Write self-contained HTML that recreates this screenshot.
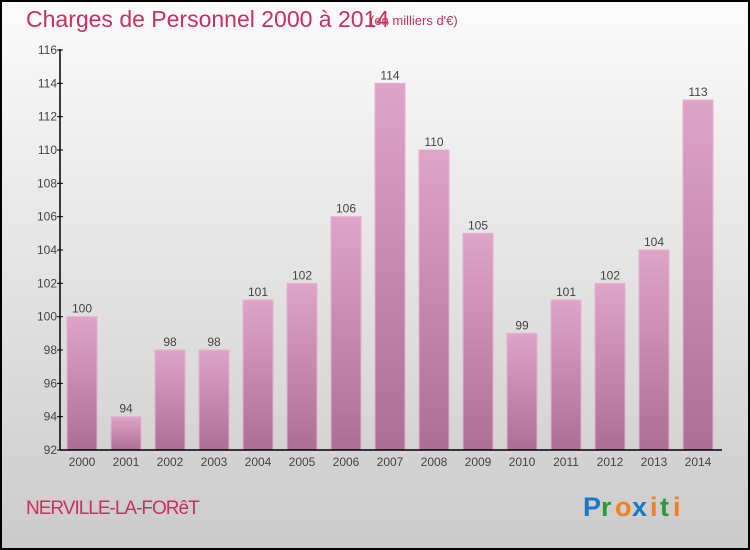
<!DOCTYPE html>
<html><head><meta charset="utf-8"><style>
body{margin:0}
#c{position:relative;width:746px;height:546px;border:2px solid #000;background:linear-gradient(#fbfbfb,#cbcbcb);overflow:hidden;font-family:"Liberation Sans",sans-serif}
</style></head><body>
<div id="c">
<svg width="746" height="546" viewBox="2 2 746 546" id="s">
<defs><linearGradient id="g" x1="0" y1="0" x2="0" y2="1"><stop offset="0" stop-color="#e0a4c8"/><stop offset="1" stop-color="#ad6e94"/></linearGradient></defs>
<text x="26" y="27" font-size="23" fill="#c8305e">Charges de Personnel 2000 à 2014</text>
<text x="370" y="25" font-size="13" fill="#c8305e">(en milliers d'€)</text>
<text x="26" y="514" font-size="19" fill="#c8305e" letter-spacing="-1">NERVILLE-LA-FORêT</text>
<g font-size="27" font-weight="bold"><text x="583" y="516" fill="#1a78c8">P</text><text x="601" y="516" fill="#2a9a3a">r</text><text x="615" y="516" fill="#f08020">o</text><text x="632" y="516" fill="#1a78c8">x</text><text x="650" y="516" fill="#f08020">i</text><text x="660" y="516" fill="#2a9a3a">t</text><text x="673" y="516" fill="#f08020">i</text></g>
<g id="plot"></g>
</svg></div>
<script>
const years=["2000","2001","2002","2003","2004","2005","2006","2007","2008","2009","2010","2011","2012","2013","2014"];
const values=[100,94,98,98,101,102,106,114,110,105,99,101,102,104,113];
const yTicks=[92,94,96,98,100,102,104,106,108,110,112,114,116];
const NS="http://www.w3.org/2000/svg";
const p=document.getElementById('plot');
const y=v=>450-(v-92)*(400/24);
const x=i=>82+44*i;
function mk(t,a,txt){const e=document.createElementNS(NS,t);for(const k in a)e.setAttribute(k,a[k]);if(txt!==undefined)e.textContent=txt;p.appendChild(e);return e;}
values.forEach((v,i)=>{
const r=mk('rect',{x:x(i)-15,y:y(v),width:30,height:450-y(v),fill:'url(#g)',stroke:'#e8b0d0','stroke-width':1});


const t=mk('text',{x:x(i),y:y(v)-4,'text-anchor':'middle','font-size':12,fill:'#444'},v);


const l=mk('text',{x:x(i),y:466,'text-anchor':'middle','font-size':12,fill:'#444'},years[i]);


});
yTicks.forEach(v=>{
const tk=mk('line',{x1:57,x2:63,y1:y(v),y2:y(v),stroke:'#000'});


const t=mk('text',{x:57,y:y(v)+4,'text-anchor':'end','font-size':12,fill:'#444'},v);


});
const ya=mk('line',{x1:60,x2:60,y1:49,y2:450,stroke:'#000','stroke-width':1.5});


const xa=mk('line',{x1:60,x2:722,y1:450,y2:450,stroke:'#000','stroke-width':1.5});


</script>
</body></html>
